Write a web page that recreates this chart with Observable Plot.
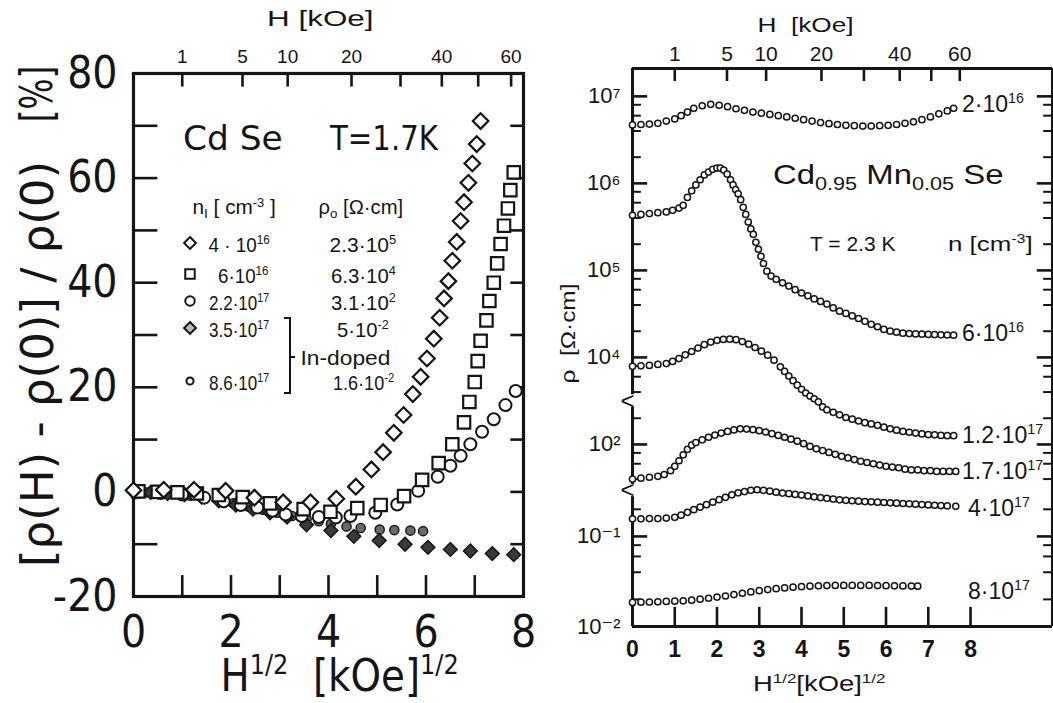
<!DOCTYPE html>
<html><head><meta charset="utf-8">
<script src="https://cdn.jsdelivr.net/npm/d3@7"></script>
<script src="https://cdn.jsdelivr.net/npm/@observablehq/plot@0.6"></script>
<style>
body{margin:0;background:#fff;}
#wrap{position:relative;width:1053px;height:703px;overflow:hidden;background:#fff;color:#151515;}
.abs{position:absolute;white-space:nowrap;line-height:1;}
.sp{font-size:0.62em;position:relative;top:-0.6em;}
.sb{font-size:0.66em;position:relative;top:0.32em;}
</style></head><body><div id="wrap"></div>
<script>
// ---------------- LEFT PANEL DATA : CdSe, T = 1.7 K ----------------
// [H^(1/2) (kOe^1/2), (rho(H)-rho(0))/rho(0) (%)]
const cdse4e16 = [[0.00,0.3],[0.62,0.4],[1.24,0.4],[1.89,0.2],[2.48,-1.1],[3.07,-2.0],[3.63,-2.0],[4.16,-1.3],[4.56,1.0],[4.88,4.3],[5.12,7.6],[5.34,11.3],[5.54,14.7],[5.73,18.7],[5.89,22.0],[6.02,25.5],[6.16,29.3],[6.28,33.3],[6.37,37.0],[6.46,40.3],[6.54,44.2],[6.63,47.8],[6.71,51.8],[6.78,55.4],[6.87,59.1],[6.95,62.8],[7.04,66.5],[7.12,70.9]];
const cdse6e16 = [[0.10,0.1],[0.50,0.0],[0.90,-0.1],[1.30,-0.3],[1.75,-0.6],[2.24,-1.0],[2.80,-2.2],[3.49,-3.3],[4.04,-3.8],[4.59,-3.1],[5.07,-2.5],[5.55,-0.8],[5.92,2.3],[6.26,5.5],[6.54,9.1],[6.78,13.3],[6.89,17.2],[7.00,21.0],[7.06,25.0],[7.12,28.9],[7.24,32.8],[7.30,36.5],[7.39,40.0],[7.46,43.7],[7.53,47.4],[7.60,50.9],[7.68,54.2],[7.73,57.7],[7.80,61.1]];
const cdse22e17 = [[0.10,0.0],[0.55,-0.2],[1.00,-0.5],[1.45,-1.1],[1.85,-1.8],[2.20,-2.5],[2.54,-3.0],[2.85,-3.6],[3.12,-4.3],[3.45,-4.6],[3.80,-4.8],[4.15,-4.9],[4.45,-4.6],[4.96,-4.0],[5.41,-2.4],[5.84,0.2],[6.24,2.9],[6.50,5.0],[6.71,6.9],[6.91,9.1],[7.15,11.5],[7.39,13.9],[7.63,16.6],[7.84,19.3]];
const cdse35e17 = [[0.05,0.0],[0.35,-0.1],[0.70,-0.3],[1.05,-0.5],[1.40,-1.0],[1.75,-1.7],[2.10,-2.5],[2.45,-3.3],[2.80,-4.0],[3.15,-4.8],[3.55,-6.3],[4.05,-7.4],[4.52,-8.5],[5.04,-9.3],[5.57,-10.0],[6.04,-10.6],[6.50,-11.0],[6.91,-11.3],[7.36,-11.8],[7.80,-12.0]];
const cdse86e17 = [[0.00,0.0],[0.25,-0.1],[0.55,-0.2],[0.85,-0.4],[1.15,-0.7],[1.45,-1.1],[1.75,-1.6],[2.05,-2.2],[2.35,-2.8],[2.65,-3.4],[2.95,-4.0],[3.25,-4.6],[3.55,-5.2],[3.80,-5.6],[4.05,-6.1],[4.37,-6.6],[4.66,-6.9],[5.05,-7.2],[5.35,-7.3],[5.68,-7.4],[5.94,-7.5]];

const leftYLabels = [-20, 0, 20, 40, 60, 80];
const leftYTicks = [-10, 0, 10, 20, 30, 40, 50, 60, 70];
const leftXLabels = [0, 2, 4, 6, 8];
const leftXTicks = [1, 2, 3, 4, 5, 6, 7];
const hTicks = [1, 5, 10, 20, 30, 40, 50, 60];       // H in kOe (top axis)
const hLabels = [1, 5, 10, 20, 40, 60];

// ---------------- RIGHT PANEL DATA : Cd0.95Mn0.05Se, T = 2.3 K ----------------
// [H^(1/2) (kOe^1/2), rho (Ohm cm)]
const mn2e16 = [[0.0,4.7e6],[0.2,4.75e6],[0.4,4.8e6],[0.6,4.9e6],[0.8,5.2e6],[1.0,5.5e6],[1.15,6.0e6],[1.3,6.6e6],[1.45,7.3e6],[1.65,7.8e6],[1.85,8.1e6],[2.05,7.9e6],[2.25,7.6e6],[2.45,7.2e6],[2.65,6.9e6],[2.85,6.6e6],[3.05,6.4e6],[3.25,6.2e6],[3.45,6.0e6],[3.65,5.8e6],[3.85,5.6e6],[4.05,5.4e6],[4.25,5.2e6],[4.45,5.0e6],[4.65,4.85e6],[4.85,4.75e6],[5.05,4.65e6],[5.25,4.6e6],[5.45,4.55e6],[5.65,4.55e6],[5.85,4.6e6],[6.05,4.65e6],[6.25,4.75e6],[6.45,4.9e6],[6.65,5.1e6],[6.85,5.4e6],[7.05,5.8e6],[7.25,6.3e6],[7.45,6.8e6],[7.6,7.3e6]];
const mn6e16 = [[0.0,4.3e5],[0.2,4.4e5],[0.4,4.5e5],[0.6,4.6e5],[0.8,4.7e5],[0.95,4.9e5],[1.1,5.2e5],[1.2,5.6e5],[1.3,6.9e5],[1.4,8.2e5],[1.5,9.6e5],[1.6,1.1e6],[1.7,1.25e6],[1.8,1.35e6],[1.9,1.45e6],[2.0,1.5e6],[2.08,1.5e6],[2.16,1.42e6],[2.24,1.28e6],[2.32,1.1e6],[2.38,9.6e5],[2.44,8.5e5],[2.5,7.6e5],[2.56,6.5e5],[2.62,5.3e5],[2.68,4.4e5],[2.74,3.6e5],[2.8,3.0e5],[2.86,2.6e5],[2.92,2.1e5],[2.98,1.75e5],[3.04,1.45e5],[3.1,1.2e5],[3.18,9.8e4],[3.28,8.6e4],[3.4,7.9e4],[3.55,7.2e4],[3.7,6.6e4],[3.85,6.0e4],[4.0,5.5e4],[4.15,5.1e4],[4.3,4.7e4],[4.45,4.4e4],[4.6,4.1e4],[4.75,3.7e4],[4.9,3.4e4],[5.05,3.2e4],[5.2,3.0e4],[5.35,2.8e4],[5.5,2.6e4],[5.65,2.4e4],[5.8,2.25e4],[5.95,2.1e4],[6.1,2.0e4],[6.25,1.95e4],[6.4,1.9e4],[6.55,1.88e4],[6.7,1.86e4],[6.85,1.85e4],[7.0,1.84e4],[7.15,1.83e4],[7.3,1.82e4],[7.45,1.81e4],[7.6,1.8e4]];
const mn12e17 = [[0.0,7.9e3],[0.2,8.0e3],[0.4,8.1e3],[0.6,8.3e3],[0.8,8.5e3],[0.95,9.0e3],[1.1,9.7e3],[1.25,1.07e4],[1.4,1.17e4],[1.55,1.28e4],[1.7,1.4e4],[1.85,1.5e4],[2.0,1.57e4],[2.15,1.61e4],[2.3,1.62e4],[2.45,1.6e4],[2.6,1.52e4],[2.75,1.42e4],[2.9,1.3e4],[3.05,1.18e4],[3.2,1.06e4],[3.35,9.3e3],[3.5,7.8e3],[3.6,6.9e3],[3.7,6.1e3],[3.8,5.4e3],[3.9,4.8e3],[4.0,4.3e3],[4.1,3.9e3],[4.2,3.6e3],[4.3,3.35e3],[4.4,309],[4.5,270],[4.6,250],[4.75,234],[4.9,219],[5.05,204],[5.2,195],[5.35,186],[5.5,178],[5.65,172],[5.8,166],[5.95,158],[6.1,151],[6.25,146],[6.4,141],[6.55,138],[6.7,135],[6.85,132],[7.0,130],[7.15,129],[7.3,127],[7.45,126],[7.6,126]];
const mn17e17 = [[0.0,40],[0.2,41],[0.4,42],[0.6,43],[0.75,45],[0.9,50],[1.0,56],[1.1,65],[1.2,76],[1.3,88],[1.4,98],[1.5,105],[1.65,113],[1.8,121],[1.95,128],[2.1,135],[2.25,141],[2.4,147],[2.55,151],[2.7,150],[2.85,148],[3.0,144],[3.15,139],[3.3,133],[3.45,127],[3.6,121],[3.75,115],[3.9,109],[4.05,102],[4.2,95],[4.35,89],[4.5,85],[4.65,81],[4.8,77],[4.95,73],[5.1,70],[5.25,67],[5.4,64],[5.55,62],[5.7,60],[5.85,58],[6.0,56],[6.15,55],[6.3,54],[6.45,52],[6.6,51],[6.75,51],[6.9,50],[7.05,50],[7.2,49],[7.35,49],[7.5,49],[7.65,49]];
const mn4e17 = [[0.0,0.157],[0.2,0.157],[0.4,0.158],[0.6,0.158],[0.8,0.160],[1.0,0.163],[1.15,0.172],[1.3,0.185],[1.45,0.198],[1.6,0.212],[1.75,0.225],[1.9,0.240],[2.05,0.256],[2.2,0.272],[2.35,0.29],[2.5,0.305],[2.65,0.315],[2.8,0.325],[2.95,0.33],[3.1,0.325],[3.25,0.318],[3.4,0.31],[3.55,0.303],[3.7,0.298],[3.85,0.293],[4.0,0.288],[4.15,0.282],[4.3,0.275],[4.45,0.27],[4.6,0.265],[4.75,0.26],[4.9,0.255],[5.05,0.252],[5.2,0.249],[5.35,0.246],[5.5,0.244],[5.65,0.242],[5.8,0.240],[5.95,0.238],[6.1,0.236],[6.25,0.234],[6.4,0.232],[6.55,0.230],[6.7,0.228],[6.85,0.226],[7.0,0.224],[7.15,0.222],[7.3,0.220],[7.45,0.218],[7.65,0.216]];
const mn8e17 = [[0.0,0.0185],[0.2,0.0186],[0.4,0.0187],[0.6,0.0188],[0.8,0.019],[1.0,0.0191],[1.2,0.0193],[1.4,0.0196],[1.6,0.0201],[1.8,0.0206],[2.0,0.0212],[2.2,0.0218],[2.4,0.0226],[2.6,0.0234],[2.8,0.0242],[3.0,0.025],[3.2,0.0257],[3.4,0.0263],[3.6,0.0268],[3.8,0.0273],[4.0,0.0277],[4.2,0.028],[4.4,0.0283],[4.6,0.0285],[4.8,0.0286],[5.0,0.0286],[5.2,0.0286],[5.4,0.0286],[5.6,0.0286],[5.8,0.0285],[6.0,0.0284],[6.2,0.0283],[6.4,0.0282],[6.6,0.0281],[6.75,0.028]];

const rhoMajor = [1e7, 1e6, 1e5, 1e4, 1e2, 1e-1, 1e-2];
const rhoMajorLabels = ["10⁷", "10⁶", "10⁵", "10⁴", "10²", "10⁻¹", "10⁻²"];
const rhoMinor = [8e6,6e6,4e6,2e6,8e5,6e5,4e5,2e5,8e4,6e4,4e4,2e4,8e3,6e3,4e3,200,80,60,40,0.2,0.08,0.06,0.04,0.02];
const rightXLabels = [0, 1, 2, 3, 4, 5, 6, 7, 8];
const rightXTicks = [1, 2, 3, 4, 5, 6, 7, 8];

// ---------------- helpers ----------------
const INK = "#151515";
const NARROW = '"Liberation Sans Narrow","DejaVu Sans Condensed","Liberation Sans",sans-serif';
const SANS = '"Liberation Sans","DejaVu Sans",sans-serif';
const DJ = '"DejaVu Sans","Liberation Sans",sans-serif';

// broken logarithmic axis: three decade segments stacked
function brokenLog(v) {
  const L = Math.log10(v);
  if (L >= 3.5) return L;                 // upper part (10^3.5 .. 10^7.3)
  if (L >= 0.5) return L + 1;             // middle part around 10^2
  return 1.943 + 1.035 * (L + 1);         // lower part 10^-2 .. 10^-0.5
}
const breakPos = [3.5, 2.47];

const toRows = (arr, s) => arr.map(([x, v]) => ({x, v, s}));
const wrap = document.getElementById("wrap");

// ---------------- LEFT PLOT ----------------
const L_YMIN = -20, L_YMAX = 80;
const leftPlot = Plot.plot({
  width: 540, height: 703,
  marginLeft: 133, marginRight: 17, marginTop: 73, marginBottom: 107,
  x: {domain: [0, 8]},
  y: {domain: [L_YMIN, L_YMAX]},
  style: {background: "transparent", color: INK, overflow: "visible"},
  marks: [
    Plot.ruleY(leftYTicks, {x1: d => 0, x2: d => 0.5, stroke: INK, strokeWidth: 2.6}),
    Plot.ruleY(leftYTicks, {x1: d => 7.74, x2: d => 8, stroke: INK, strokeWidth: 2.6}),
    Plot.ruleX(leftXTicks, {y1: d => L_YMIN, y2: d => L_YMIN + 4, stroke: INK, strokeWidth: 2.6}),
    Plot.ruleX(hTicks, {x: d => Math.sqrt(d), y1: d => L_YMAX - 2.6, y2: d => L_YMAX, stroke: INK, strokeWidth: 2.6}),
    Plot.frame({stroke: INK, strokeWidth: 3.2}),
    Plot.axisY({ticks: leftYLabels, tickSize: 0, tickPadding: 16, fontSize: 44, fontFamily: NARROW, label: null, tickFormat: d => d < 0 ? "-" + (-d) : String(d)}),
    Plot.axisX({ticks: leftXLabels, tickSize: 0, tickPadding: 19, fontSize: 44, fontFamily: NARROW, label: null}),
    Plot.axisX({anchor: "top", ticks: hLabels.map(Math.sqrt), tickSize: 0, tickPadding: 11, fontSize: 19, fontFamily: SANS, label: null, tickFormat: d => String(Math.round(d * d))}),
    Plot.dot(toRows(cdse86e17), {x: "x", y: "v", r: 4.6, symbol: "circle", fill: "#6a6a6a", stroke: INK, strokeWidth: 1.4}),
    Plot.dot(toRows(cdse35e17), {x: "x", y: "v", r: 6.2, symbol: "diamond2", fill: "#3a3a3a", stroke: INK, strokeWidth: 1.5}),
    Plot.dot(toRows(cdse22e17), {x: "x", y: "v", r: 6, symbol: "circle", fill: "white", stroke: INK, strokeWidth: 2}),
    Plot.dot(toRows(cdse6e16), {x: "x", y: "v", r: 7, symbol: "square", fill: "white", stroke: INK, strokeWidth: 2.2}),
    Plot.dot(toRows(cdse4e16), {x: "x", y: "v", r: 7, symbol: "diamond2", fill: "white", stroke: INK, strokeWidth: 2.2})
  ]
});
leftPlot.style.position = "absolute"; leftPlot.style.left = "0px"; leftPlot.style.top = "0px";
wrap.appendChild(leftPlot);

// ---------------- RIGHT PLOT ----------------
const R_UMIN = 0.908, R_UMAX = 7.32, R_XMAX = 9.94;
const leftAxisSegments = [[R_UMIN, breakPos[1] - 0.07], [breakPos[1] + 0.07, breakPos[0] - 0.07], [breakPos[0] + 0.07, R_UMAX]];
const rightPlot = Plot.plot({
  width: 513, height: 703,
  marginLeft: 92, marginRight: 1, marginTop: 68, marginBottom: 77,
  x: {domain: [0, R_XMAX]},
  y: {type: "linear", domain: [R_UMIN, R_UMAX]},
  style: {background: "transparent", color: INK, overflow: "visible"},
  marks: [
    Plot.ruleY([R_UMIN], {stroke: INK, strokeWidth: 3}),
    Plot.ruleY([R_UMAX], {stroke: INK, strokeWidth: 3}),
    Plot.ruleX([R_XMAX], {stroke: INK, strokeWidth: 3}),
    Plot.ruleX(leftAxisSegments, {x: d => 0, y1: d => d[0], y2: d => d[1], stroke: INK, strokeWidth: 3}),
    Plot.text(breakPos, {x: d => 0, y: d => d, text: d => "<", dx: -5, fontSize: 24, fontFamily: SANS, fill: INK}),
    Plot.ruleY(rhoMajor, {y: d => brokenLog(d), x1: d => 0, x2: d => 0.36, stroke: INK, strokeWidth: 2.6}),
    Plot.ruleY(rhoMinor, {y: d => brokenLog(d), x1: d => 0, x2: d => 0.21, stroke: INK, strokeWidth: 2}),
    Plot.ruleY(rhoMajor.slice(0, 6), {y: d => brokenLog(d), x1: d => R_XMAX - 0.36, x2: d => R_XMAX, stroke: INK, strokeWidth: 2.6}),
    Plot.ruleY(rhoMinor, {y: d => brokenLog(d), x1: d => R_XMAX - 0.21, x2: d => R_XMAX, stroke: INK, strokeWidth: 2}),
    Plot.ruleX(rightXTicks, {y1: d => R_UMIN, y2: d => R_UMIN + 0.22, stroke: INK, strokeWidth: 2.6}),
    Plot.ruleX(hTicks, {x: d => Math.sqrt(d), y1: d => R_UMAX - 0.15, y2: d => R_UMAX, stroke: INK, strokeWidth: 2.6}),
    Plot.axisY({ticks: rhoMajor.map(brokenLog), tickSize: 0, tickPadding: 12, fontSize: 22, fontFamily: SANS, label: null,
      tickFormat: (d, i) => rhoMajorLabels[i]}),
    Plot.axisX({ticks: rightXLabels, tickSize: 0, tickPadding: 14, fontSize: 23, fontFamily: SANS, fontWeight: "bold", label: null}),
    Plot.axisX({anchor: "top", ticks: hLabels.map(Math.sqrt), tickSize: 0, tickPadding: 8, fontSize: 21, fontFamily: SANS, label: null, tickFormat: d => String(Math.round(d * d))}),
    ...[mn2e16, mn6e16, mn12e17, mn17e17, mn4e17, mn8e17].map(arr =>
      Plot.dot(toRows(arr), {x: "x", y: d => brokenLog(d.v), r: 3.1, fill: "white", stroke: INK, strokeWidth: 1.5}))
  ]
});
rightPlot.style.position = "absolute"; rightPlot.style.left = "540px"; rightPlot.style.top = "0px";
wrap.appendChild(rightPlot);

// ---------------- TEXT ANNOTATIONS ----------------
function place(html, o) {
  const d = document.createElement("div");
  d.className = "abs";
  d.innerHTML = html;
  d.style.fontFamily = o.family || SANS;
  d.style.fontSize = (o.size || 20) + "px";
  if (o.lh) d.style.lineHeight = o.lh;
  if (o.weight) d.style.fontWeight = o.weight;
  d.style.left = "0px"; d.style.top = "0px";
  wrap.appendChild(d);
  const w = d.offsetWidth, h = d.offsetHeight;
  const sx = o.fitW ? o.fitW / w : 1;
  let cx = o.cx;
  if (o.x != null) cx = o.x + (w * sx) / 2;
  if (o.xr != null) cx = o.xr - (w * sx) / 2;
  d.style.left = (cx - w / 2) + "px";
  d.style.top = (o.cy - h / 2) + "px";
  d.style.transform = (o.rotate ? `rotate(${o.rotate}deg) ` : "") + `scaleX(${sx})`;
  return d;
}
const sp = s => `<span class="sp">${s}</span>`;
const sb = s => `<span class="sb">${s}</span>`;

// left panel titles
place("H [kOe]", {cx: 320, cy: 19, size: 22, fitW: 107});
place(`H${sp("1/2")}&nbsp; [kOe]${sp("1/2")}`, {x: 220, cy: 676, size: 44, family: NARROW, fitW: 238, lh: 0.7});
place("[ρ(H) - ρ(0)] / ρ(0)", {cx: 37, cy: 364, size: 44, family: NARROW, rotate: -90, fitW: 406});
place("[%]", {cx: 37, cy: 94, size: 44, family: NARROW, rotate: -90, fitW: 57});
place("Cd Se", {x: 183, cy: 138, size: 33, family: DJ, fitW: 100});
place("T=1.7K", {x: 330, cy: 138, size: 33, family: DJ, fitW: 108});
place(`n${sb("I")} [ cm${sp("-3")} ]`, {x: 192, cy: 207, size: 20, family: SANS, fitW: 83});
place(`ρ${sb("o")} [Ω·cm]`, {x: 318, cy: 207, size: 20, family: SANS, fitW: 85});
const legendN = [`4 · 10${sp("16")}`, `6·10${sp("16")}`, `2.2·10${sp("17")}`, `3.5·10${sp("17")}`, `8.6·10${sp("17")}`];
const legendNW = [61, 51, 60, 60, 60];
const legendRho = [`2.3·10${sp("5")}`, `6.3·10${sp("4")}`, `3.1·10${sp("2")}`, `5·10${sp("-2")}`, `1.6·10${sp("-2")}`];
const legendRhoW = [67, 65, 65, 52, 61];
const legendY = [244, 275, 302, 329, 382];
legendN.forEach((t, i) => place(t, {xr: 269, cy: legendY[i], size: 21, family: SANS, fitW: legendNW[i]}));
legendRho.forEach((t, i) => place(t, {cx: 363, cy: legendY[i], size: 21, family: SANS, fitW: legendRhoW[i]}));
place("In-doped", {x: 300, cy: 357, size: 21, family: SANS, fitW: 90});

// right panel titles
place("H&nbsp; [kOe]", {cx: 805, cy: 24, size: 21, fitW: 96});
place(`H${sp("1/2")}[kOe]${sp("1/2")}`, {cx: 819, cy: 684, size: 22, fitW: 132});
place("ρ&nbsp; [Ω·cm]", {cx: 568, cy: 333, size: 21, rotate: -90, fitW: 100});
place(`Cd${sb("0.95")} Mn${sb("0.05")} Se`, {x: 773, cy: 175, size: 28, fitW: 230});
place("T = 2.3 K", {x: 810, cy: 243, size: 21, fitW: 85});
place(`n [cm${sp("-3")}]`, {x: 948, cy: 243, size: 21, fitW: 85});
const curveLabels = [`2·10${sp("16")}`, `6·10${sp("16")}`, `1.2·10${sp("17")}`, `1.7·10${sp("17")}`, `4·10${sp("17")}`, `8·10${sp("17")}`];
const curveLabelX = [962, 962, 962, 962, 968, 968];
const curveLabelY = [104, 333, 435, 471, 508, 591];
curveLabels.forEach((t, i) => place(t, {x: curveLabelX[i], cy: curveLabelY[i], size: 23}));

// legend symbols and bracket (left panel)
const ov = d3.select(wrap).append("svg").attr("width", 1053).attr("height", 703)
  .style("position", "absolute").style("left", 0).style("top", 0).style("pointer-events", "none");
const legendSym = [
  {type: d3.symbolDiamond2, size: 90, fill: "white"},
  {type: d3.symbolSquare, size: 90, fill: "white"},
  {type: d3.symbolCircle, size: 70, fill: "white"},
  {type: d3.symbolDiamond2, size: 90, fill: "#bbb"},
  {type: d3.symbolCircle, size: 40, fill: "white"}
];
legendSym.forEach((s, i) => ov.append("path")
  .attr("d", d3.symbol(s.type, s.size)()).attr("transform", `translate(190,${legendY[i] - 1})`)
  .attr("fill", s.fill).attr("stroke", INK).attr("stroke-width", 2));
ov.append("path").attr("d", "M284,318 H290 V393 H284 M290,357 H295")
  .attr("fill", "none").attr("stroke", INK).attr("stroke-width", 2);
</script></body></html>
